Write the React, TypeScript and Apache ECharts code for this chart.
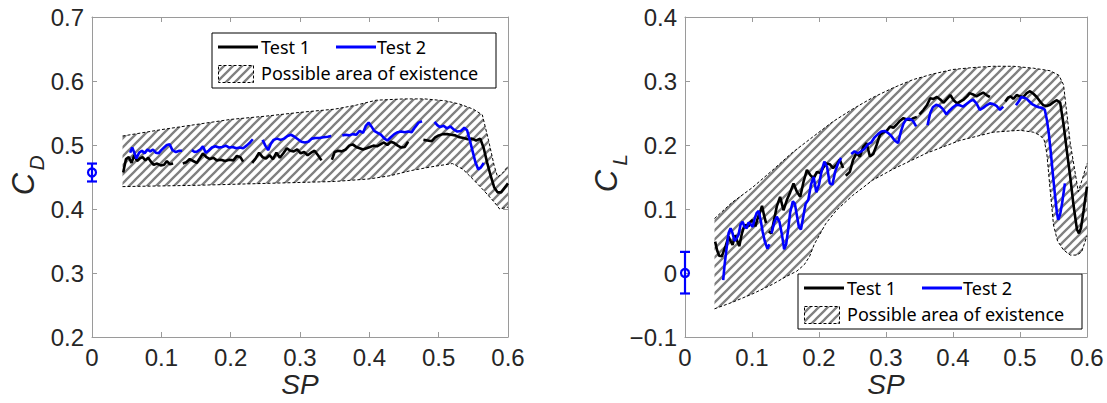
import React, { useEffect, useRef } from 'react';
import * as echarts from 'echarts';

type Pt = [number, number];

// ---------- axis ticks ----------
const spTicks = [0, 0.1, 0.2, 0.3, 0.4, 0.5, 0.6];
const cdTicks = [0.2, 0.3, 0.4, 0.5, 0.6, 0.7];
const clTicks = [-0.1, 0, 0.1, 0.2, 0.3, 0.4];

// ---------- C_D chart ----------
const cdUpper: Pt[] = [
  [0.044, 0.514], [0.1, 0.524], [0.15, 0.532], [0.2, 0.540], [0.25, 0.545], [0.3, 0.551],
  [0.35, 0.556], [0.38, 0.562], [0.41, 0.570], [0.45, 0.572], [0.48, 0.572], [0.51, 0.569],
  [0.53, 0.564], [0.55, 0.556], [0.563, 0.547], [0.572, 0.507], [0.58, 0.468], [0.585, 0.450],
  [0.592, 0.456], [0.6, 0.467],
];
const cdLower: Pt[] = [
  [0.044, 0.435], [0.15, 0.437], [0.25, 0.440], [0.35, 0.443], [0.40, 0.447], [0.43, 0.452],
  [0.46, 0.460], [0.49, 0.466], [0.52, 0.471], [0.535, 0.462], [0.55, 0.446], [0.565, 0.429],
  [0.58, 0.411], [0.588, 0.400], [0.6, 0.403],
];
const cdTest1: Pt[][] = [
  [[0.045, 0.457], [0.049, 0.478], [0.053, 0.481], [0.057, 0.472], [0.061, 0.484], [0.065, 0.475], [0.069, 0.479], [0.073, 0.481], [0.077, 0.476], [0.081, 0.480], [0.085, 0.474], [0.089, 0.469], [0.094, 0.471], [0.099, 0.468], [0.104, 0.469], [0.108, 0.475], [0.112, 0.470], [0.117, 0.471]],
  [[0.131, 0.471], [0.136, 0.473], [0.141, 0.478], [0.146, 0.475], [0.151, 0.472], [0.156, 0.480], [0.160, 0.487], [0.165, 0.481], [0.170, 0.478], [0.175, 0.480], [0.180, 0.476], [0.186, 0.477], [0.192, 0.475], [0.198, 0.477], [0.204, 0.476], [0.209, 0.483], [0.214, 0.481], [0.218, 0.474]],
  [[0.231, 0.472], [0.236, 0.479], [0.241, 0.488], [0.246, 0.481], [0.251, 0.479], [0.256, 0.484], [0.261, 0.478], [0.266, 0.488], [0.271, 0.480], [0.276, 0.487], [0.281, 0.495], [0.286, 0.491], [0.291, 0.490], [0.296, 0.493], [0.301, 0.487], [0.306, 0.489], [0.311, 0.484], [0.316, 0.488], [0.321, 0.491], [0.326, 0.484], [0.331, 0.476]],
  [[0.346, 0.477], [0.350, 0.489], [0.355, 0.491], [0.360, 0.490], [0.366, 0.493], [0.371, 0.499], [0.376, 0.501], [0.381, 0.497], [0.386, 0.495], [0.391, 0.493], [0.396, 0.495], [0.401, 0.497], [0.406, 0.499], [0.411, 0.498], [0.416, 0.501], [0.421, 0.504], [0.426, 0.500], [0.431, 0.505], [0.436, 0.503], [0.441, 0.499], [0.446, 0.496], [0.451, 0.497], [0.456, 0.505]],
  [[0.478, 0.508], [0.484, 0.507], [0.490, 0.506], [0.495, 0.512], [0.500, 0.515], [0.506, 0.517], [0.512, 0.517], [0.518, 0.516], [0.524, 0.515], [0.530, 0.512], [0.536, 0.511], [0.542, 0.509], [0.548, 0.510], [0.554, 0.507], [0.560, 0.510], [0.565, 0.495], [0.570, 0.472], [0.575, 0.452], [0.580, 0.434], [0.585, 0.426], [0.590, 0.426], [0.595, 0.433], [0.600, 0.440]],
];
const cdTest2: Pt[][] = [
  [[0.055, 0.488], [0.058, 0.496], [0.061, 0.488], [0.064, 0.479], [0.068, 0.488], [0.072, 0.491], [0.076, 0.487], [0.080, 0.493], [0.084, 0.490], [0.088, 0.493], [0.092, 0.488], [0.096, 0.487], [0.100, 0.492], [0.104, 0.496], [0.108, 0.500], [0.112, 0.501], [0.116, 0.492], [0.121, 0.489], [0.126, 0.491], [0.130, 0.491]],
  [[0.144, 0.492], [0.148, 0.489], [0.152, 0.490], [0.156, 0.493], [0.160, 0.498], [0.164, 0.488], [0.168, 0.491], [0.173, 0.496], [0.178, 0.498], [0.183, 0.496], [0.188, 0.497], [0.193, 0.499], [0.198, 0.496], [0.203, 0.497], [0.208, 0.495], [0.213, 0.496], [0.218, 0.495], [0.223, 0.499], [0.228, 0.504], [0.232, 0.509]],
  [[0.246, 0.508], [0.250, 0.499], [0.254, 0.492], [0.258, 0.502], [0.262, 0.508], [0.267, 0.510], [0.272, 0.508], [0.277, 0.510], [0.282, 0.514], [0.287, 0.516], [0.292, 0.513], [0.297, 0.509], [0.302, 0.505], [0.307, 0.504], [0.312, 0.505], [0.317, 0.510], [0.322, 0.511], [0.328, 0.511], [0.334, 0.512], [0.340, 0.513], [0.345, 0.514]],
  [[0.361, 0.515], [0.366, 0.516], [0.371, 0.515], [0.376, 0.517], [0.381, 0.516], [0.386, 0.522], [0.391, 0.519], [0.395, 0.530], [0.399, 0.535], [0.403, 0.529], [0.407, 0.522], [0.412, 0.519], [0.417, 0.516], [0.422, 0.510], [0.426, 0.507], [0.431, 0.512], [0.436, 0.517], [0.441, 0.520], [0.446, 0.521], [0.451, 0.520], [0.456, 0.521], [0.461, 0.520], [0.466, 0.528], [0.471, 0.535], [0.476, 0.537]],
  [[0.494, 0.536], [0.498, 0.531], [0.502, 0.528], [0.507, 0.530], [0.512, 0.526], [0.517, 0.529], [0.522, 0.524], [0.527, 0.521], [0.532, 0.522], [0.537, 0.527], [0.541, 0.523], [0.545, 0.507], [0.549, 0.490], [0.553, 0.473], [0.557, 0.462], [0.561, 0.465], [0.565, 0.472]],
];
// [SP, mean, low, high]
const cdErrorBar = [0, 0.457, 0.443, 0.471];

// ---------- C_L chart ----------
const clUpper: Pt[] = [
  [0.044, 0.085], [0.07, 0.110], [0.1, 0.133], [0.13, 0.160], [0.16, 0.188], [0.19, 0.212],
  [0.22, 0.236], [0.25, 0.256], [0.28, 0.274], [0.31, 0.289], [0.34, 0.302], [0.37, 0.311],
  [0.4, 0.318], [0.43, 0.321], [0.46, 0.323], [0.49, 0.323], [0.52, 0.320], [0.545, 0.316],
  [0.558, 0.309], [0.565, 0.294], [0.575, 0.203], [0.587, 0.127], [0.594, 0.150], [0.6, 0.171],
];
const clLower: Pt[] = [
  [0.044, -0.056], [0.07, -0.046], [0.1, -0.033], [0.13, -0.018], [0.152, -0.005], [0.167, 0.003],
  [0.178, 0.013], [0.186, 0.026], [0.193, 0.045], [0.2, 0.058], [0.21, 0.077], [0.226, 0.098],
  [0.25, 0.121], [0.28, 0.145], [0.31, 0.162], [0.36, 0.187], [0.41, 0.207], [0.46, 0.220],
  [0.5, 0.223], [0.52, 0.220], [0.53, 0.215], [0.536, 0.208], [0.54, 0.187], [0.545, 0.130],
  [0.55, 0.075], [0.556, 0.050], [0.565, 0.036], [0.575, 0.028], [0.585, 0.028], [0.592, 0.033],
  [0.6, 0.058],
];
const clTest1: Pt[][] = [
  [[0.045, 0.049], [0.048, 0.035], [0.051, 0.027], [0.055, 0.026], [0.058, 0.035], [0.061, 0.043], [0.065, 0.057], [0.068, 0.050], [0.071, 0.044], [0.075, 0.059], [0.078, 0.050], [0.081, 0.042], [0.085, 0.062], [0.088, 0.072], [0.091, 0.075], [0.095, 0.073], [0.098, 0.080], [0.101, 0.083], [0.105, 0.073], [0.108, 0.084], [0.111, 0.092], [0.115, 0.105], [0.118, 0.090], [0.121, 0.078]],
  [[0.125, 0.065], [0.129, 0.062], [0.132, 0.078], [0.137, 0.104], [0.142, 0.119], [0.147, 0.098], [0.152, 0.114], [0.157, 0.126], [0.162, 0.140], [0.167, 0.127], [0.172, 0.119], [0.177, 0.143], [0.182, 0.161], [0.187, 0.153], [0.192, 0.148], [0.197, 0.158], [0.202, 0.156], [0.206, 0.164], [0.211, 0.171], [0.216, 0.170], [0.221, 0.164], [0.226, 0.169], [0.231, 0.177], [0.236, 0.164]],
  [[0.240, 0.152], [0.246, 0.158], [0.251, 0.177], [0.256, 0.187], [0.261, 0.182], [0.266, 0.197], [0.271, 0.203], [0.276, 0.182], [0.281, 0.186], [0.286, 0.200], [0.291, 0.216], [0.296, 0.220], [0.301, 0.222], [0.306, 0.229], [0.311, 0.227], [0.316, 0.232], [0.321, 0.238], [0.326, 0.242], [0.331, 0.240], [0.336, 0.239], [0.341, 0.242], [0.346, 0.244]],
  [[0.350, 0.248], [0.356, 0.255], [0.361, 0.262], [0.366, 0.273], [0.371, 0.272], [0.376, 0.275], [0.381, 0.271], [0.386, 0.266], [0.391, 0.272], [0.396, 0.278], [0.401, 0.270], [0.406, 0.265], [0.411, 0.268], [0.416, 0.271], [0.421, 0.276], [0.425, 0.281], [0.430, 0.279], [0.435, 0.276], [0.440, 0.279], [0.445, 0.282], [0.450, 0.278], [0.455, 0.275]],
  [[0.478, 0.268], [0.482, 0.274], [0.486, 0.276], [0.490, 0.272], [0.495, 0.278], [0.500, 0.276], [0.505, 0.275], [0.510, 0.281], [0.515, 0.284], [0.520, 0.280], [0.525, 0.275], [0.530, 0.268], [0.535, 0.262], [0.540, 0.261], [0.545, 0.263], [0.550, 0.267], [0.555, 0.270], [0.560, 0.266], [0.565, 0.232], [0.570, 0.190], [0.575, 0.150], [0.580, 0.105], [0.585, 0.068], [0.588, 0.062], [0.591, 0.070], [0.595, 0.098], [0.600, 0.135]],
];
const clTest2: Pt[][] = [
  [[0.057, -0.011], [0.059, 0.012], [0.062, 0.038], [0.065, 0.062], [0.068, 0.070], [0.071, 0.062], [0.074, 0.050], [0.077, 0.054], [0.080, 0.060], [0.083, 0.076], [0.086, 0.080], [0.089, 0.072], [0.092, 0.070], [0.095, 0.079], [0.098, 0.076], [0.101, 0.072], [0.104, 0.085], [0.107, 0.094], [0.110, 0.097], [0.113, 0.082], [0.116, 0.064], [0.119, 0.050], [0.123, 0.038], [0.126, 0.045]],
  [[0.129, 0.062], [0.133, 0.078], [0.137, 0.088], [0.141, 0.080], [0.145, 0.058], [0.148, 0.037], [0.151, 0.045], [0.154, 0.068], [0.157, 0.095], [0.161, 0.112], [0.164, 0.108], [0.167, 0.090], [0.170, 0.072], [0.173, 0.068], [0.176, 0.085], [0.180, 0.108], [0.184, 0.114], [0.188, 0.138], [0.192, 0.150], [0.196, 0.126], [0.200, 0.138], [0.204, 0.160], [0.208, 0.174], [0.212, 0.166], [0.216, 0.140], [0.220, 0.138], [0.224, 0.158], [0.228, 0.170], [0.233, 0.180]],
  [[0.248, 0.186], [0.253, 0.190], [0.258, 0.187], [0.263, 0.190], [0.268, 0.194], [0.273, 0.201], [0.278, 0.204], [0.283, 0.212], [0.288, 0.217], [0.293, 0.221], [0.298, 0.222], [0.303, 0.219], [0.308, 0.214], [0.313, 0.207], [0.318, 0.203], [0.322, 0.220], [0.326, 0.233], [0.330, 0.240], [0.335, 0.241], [0.340, 0.238], [0.345, 0.229]],
  [[0.362, 0.231], [0.366, 0.250], [0.370, 0.259], [0.375, 0.263], [0.380, 0.261], [0.385, 0.256], [0.390, 0.248], [0.395, 0.254], [0.400, 0.259], [0.405, 0.263], [0.410, 0.262], [0.415, 0.260], [0.420, 0.264], [0.425, 0.268], [0.430, 0.271], [0.435, 0.265], [0.440, 0.255], [0.445, 0.258], [0.450, 0.262], [0.455, 0.265], [0.460, 0.264], [0.465, 0.261], [0.470, 0.255], [0.475, 0.260]],
  [[0.494, 0.262], [0.498, 0.268], [0.502, 0.275], [0.506, 0.274], [0.510, 0.272], [0.514, 0.268], [0.518, 0.264], [0.523, 0.261], [0.528, 0.259], [0.533, 0.258], [0.537, 0.255], [0.540, 0.240], [0.543, 0.218], [0.546, 0.188], [0.549, 0.155], [0.552, 0.124], [0.555, 0.095], [0.557, 0.083], [0.560, 0.092], [0.563, 0.110], [0.567, 0.140]],
];
const clErrorBar = [0, 0.0, -0.032, 0.033];

const legendLabels = ['Test 1', 'Test 2', 'Possible area of existence'];

// ---------- styling ----------
const AXIS_COLOR = '#9a9a9a';
const TICK_TEXT = '#262626';
const BLUE = '#0000ff';
const TICK_FONT = '"Liberation Sans", Arial, sans-serif';
const LEGEND_FONT = '"Noto Sans", "Open Sans", sans-serif';

function makeHatch() {
  const s = 9;
  const c = document.createElement('canvas');
  c.width = s;
  c.height = s;
  const ctx = c.getContext('2d')!;
  ctx.fillStyle = '#ffffff';
  ctx.fillRect(0, 0, s, s);
  ctx.strokeStyle = '#808080';
  ctx.lineWidth = 2.3;
  ctx.beginPath();
  for (const k of [-s, 0, s]) {
    ctx.moveTo(-2 + k, s + 2);
    ctx.lineTo(s + 2 + k, -2);
  }
  ctx.stroke();
  return { image: c.toDataURL(), repeat: 'repeat', imageWidth: s, imageHeight: s } as any;
}

const fmt = (v: number) => {
  const s = String(Number(v.toFixed(2)));
  return s.replace('-', '\u2212');
};

function axesFor(gridIndex: number, yMin: number, yMax: number) {
  const common = {
    gridIndex,
    type: 'value' as const,
    interval: 0.1,
    axisLine: { show: true, onZero: false, lineStyle: { color: AXIS_COLOR, width: 1 } },
    axisTick: { show: true, inside: true, length: 5, lineStyle: { color: AXIS_COLOR } },
    splitLine: { show: false },
  };
  const xAxes = [
    {
      ...common, min: 0, max: 0.6, position: 'bottom',
      axisLabel: { show: true, fontSize: 24, color: TICK_TEXT, fontFamily: TICK_FONT, margin: 8, formatter: fmt, showMinLabel: true, showMaxLabel: true },
    },
    { ...common, min: 0, max: 0.6, position: 'top', axisLabel: { show: false } },
  ];
  const yAxes = [
    {
      ...common, min: yMin, max: yMax, position: 'left',
      axisLabel: { show: true, fontSize: 24, color: TICK_TEXT, fontFamily: TICK_FONT, margin: 8, formatter: fmt, showMinLabel: true, showMaxLabel: true },
    },
    { ...common, min: yMin, max: yMax, position: 'right', axisLabel: { show: false } },
  ];
  return { xAxes, yAxes };
}

function bandSeries(ax: number, upper: Pt[], lower: Pt[], hatch: any) {
  return [
    {
      type: 'custom',
      xAxisIndex: ax, yAxisIndex: ax,
      data: [[upper[0][0], upper[0][1]]],
      silent: true,
      z: 1,
      clip: true,
      renderItem: (_p: any, api: any) => {
        const pts = [
          ...upper.map((p) => api.coord(p)),
          ...lower.slice().reverse().map((p) => api.coord(p)),
        ];
        return { type: 'polygon', shape: { points: pts }, style: { fill: hatch, stroke: null } };
      },
    },
    {
      type: 'line', xAxisIndex: ax, yAxisIndex: ax, data: upper, symbol: 'none', silent: true, z: 2,
      lineStyle: { color: '#000', width: 1, type: [3, 2] },
    },
    {
      type: 'line', xAxisIndex: ax, yAxisIndex: ax, data: lower, symbol: 'none', silent: true, z: 2,
      lineStyle: { color: '#000', width: 1, type: [3, 2] },
    },
  ];
}

function testSeries(ax: number, segs: Pt[][], color: string, name: string) {
  return segs.map((seg) => ({
    type: 'line', name, xAxisIndex: ax, yAxisIndex: ax, data: seg, symbol: 'none', silent: true, z: 3,
    lineStyle: { color, width: 2.6 },
  }));
}

function errorSeries(ax: number, eb: number[]) {
  return {
    type: 'custom',
    xAxisIndex: ax, yAxisIndex: ax,
    data: [eb],
    clip: false,
    silent: true,
    z: 4,
    renderItem: (_p: any, api: any) => {
      const c = api.coord([api.value(0), api.value(1)]);
      const lo = api.coord([api.value(0), api.value(2)]);
      const hi = api.coord([api.value(0), api.value(3)]);
      const st = { stroke: BLUE, lineWidth: 2.2, fill: null };
      return {
        type: 'group',
        children: [
          { type: 'line', shape: { x1: lo[0], y1: lo[1], x2: hi[0], y2: hi[1] }, style: st },
          { type: 'line', shape: { x1: lo[0] - 5, y1: lo[1], x2: lo[0] + 5, y2: lo[1] }, style: st },
          { type: 'line', shape: { x1: hi[0] - 5, y1: hi[1], x2: hi[0] + 5, y2: hi[1] }, style: st },
          { type: 'circle', shape: { cx: c[0], cy: c[1], r: 4 }, style: { stroke: BLUE, lineWidth: 2.2, fill: 'none' } },
        ],
      };
    },
  };
}

function legendGraphic(x: number, y: number, hatch: any) {
  const font = `18px ${LEGEND_FONT}`;
  return {
    type: 'group', x, y, z: 100,
    children: [
      { type: 'rect', shape: { x: 0, y: 0, width: 284, height: 55 }, style: { fill: '#fff', stroke: '#000', lineWidth: 1 } },
      { type: 'line', shape: { x1: 6, y1: 14, x2: 46, y2: 14 }, style: { stroke: '#000', lineWidth: 2.8 } },
      { type: 'text', x: 49, y: 14, style: { text: legendLabels[0], font, fill: '#000', textVerticalAlign: 'middle', verticalAlign: 'middle' } },
      { type: 'line', shape: { x1: 124, y1: 14, x2: 164, y2: 14 }, style: { stroke: BLUE, lineWidth: 2.8 } },
      { type: 'text', x: 165, y: 14, style: { text: legendLabels[1], font, fill: '#000', textVerticalAlign: 'middle', verticalAlign: 'middle' } },
      { type: 'rect', shape: { x: 6.5, y: 32.5, width: 35, height: 17 }, style: { fill: hatch, stroke: '#000', lineWidth: 1, lineDash: [3, 2] } },
      { type: 'text', x: 49, y: 40, style: { text: legendLabels[2], font, fill: '#000', textVerticalAlign: 'middle', verticalAlign: 'middle' } },
    ],
  };
}

function yName(cx: number, cy: number, sub: string) {
  const big = `italic 31px ${TICK_FONT}`;
  const small = `italic 21px ${TICK_FONT}`;
  return [
    { type: 'text', x: cx, y: cy, rotation: Math.PI / 2, z: 50, style: { text: 'C', font: big, fill: TICK_TEXT, align: 'center', verticalAlign: 'middle', textAlign: 'center', textVerticalAlign: 'middle' } },
    { type: 'text', x: cx + 13, y: cy - 21, rotation: Math.PI / 2, z: 50, style: { text: sub, font: small, fill: TICK_TEXT, align: 'center', verticalAlign: 'middle', textAlign: 'center', textVerticalAlign: 'middle' } },
  ];
}

function xName(cx: number, cy: number) {
  return { type: 'text', x: cx, y: cy, z: 50, style: { text: 'SP', font: `italic 28px ${TICK_FONT}`, fill: TICK_TEXT, align: 'center', verticalAlign: 'middle', textAlign: 'center', textVerticalAlign: 'middle' } };
}

export default function App() {
  const ref = useRef<HTMLDivElement>(null);
  useEffect(() => {
    document.body.style.margin = '0';
    if (!ref.current) return;
    const chart = echarts.init(ref.current, undefined, { renderer: 'svg' });
    const hatch = makeHatch();
    const a0 = axesFor(0, cdTicks[0], cdTicks[cdTicks.length - 1]);
    const a1 = axesFor(1, clTicks[0], clTicks[clTicks.length - 1]);
    void spTicks;
    const option: any = {
      animation: false,
      backgroundColor: '#fff',
      grid: [
        { left: 92, top: 17, width: 416, height: 320, outerBoundsMode: 'none', containLabel: false },
        { left: 685, top: 17, width: 402, height: 320, outerBoundsMode: 'none', containLabel: false },
      ],
      xAxis: [...a0.xAxes, ...a1.xAxes],
      yAxis: [...a0.yAxes, ...a1.yAxes],
      series: [
        ...bandSeries(0, cdUpper, cdLower, hatch),
        ...testSeries(0, cdTest1, '#000000', legendLabels[0]),
        ...testSeries(0, cdTest2, BLUE, legendLabels[1]),
        errorSeries(0, cdErrorBar),
        ...bandSeries(2, clUpper, clLower, hatch),
        ...testSeries(2, clTest1, '#000000', legendLabels[0]),
        ...testSeries(2, clTest2, BLUE, legendLabels[1]),
        errorSeries(2, clErrorBar),
      ],
      graphic: [
        legendGraphic(212, 33, hatch),
        legendGraphic(798, 274, hatch),
        ...yName(23, 184, 'D'),
        ...yName(606, 181, 'L'),
        xName(300, 384),
        xName(886, 384),
      ],
    };
    chart.setOption(option);
    return () => chart.dispose();
  }, []);
  return <div ref={ref} style={{ width: 1107, height: 403 }} />;
}
